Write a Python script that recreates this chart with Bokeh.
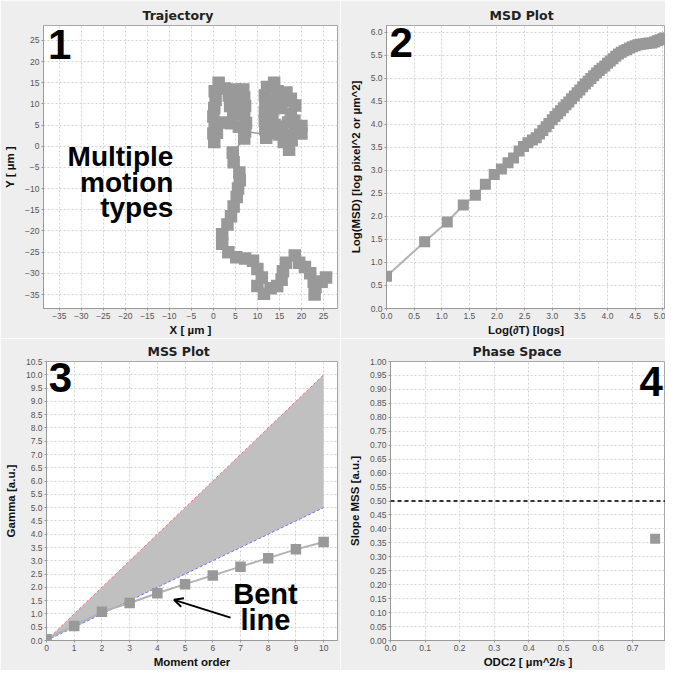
from bokeh.plotting import figure
from bokeh.models import Range1d, FixedTicker, NumeralTickFormatter, Label, Arrow, OpenHead, Span
from bokeh.layouts import column, row
from bokeh.embed import file_html
from bokeh.resources import INLINE

# ---------------- data ----------------
traj_x = [20.0, 20.0, 18.6, 17.8, 17.2, 16.0, 15.0, 13.5, 12.0, 11.8, 11.7, 11.7, 11.8, 11.7, 12.2, 13.8,
          14.6, 13.6, 13.8, 13.4, 14.0, 15.6, 17.0, 17.6, 18.6, 17.6, 16.6, 15.8, 15.4, 18.4, 16.8, 12.0,
          7.2, 7.4, 7.0, 7.2, 7.0, 6.8, 5.0, 4.6, 5.0, 4.5, 3.8, 3.5, 2.6, 1.2, 0.3, 0.5, 0.2, 0.0, 0.3,
          0.0, 0.2, 0.8, 2.2, 4.0, 5.8, 7.0,
          4.4, 4.6, 5.9, 6.0, 5.6, 5.3, 4.6, 4.0, 3.2, 2.0, 2.0, 3.4, 5.2, 7.2, 9.0, 10.0, 11.0, 10.0,
          11.5, 13.0, 14.5, 15.5, 15.8, 16.5, 18.5, 19.5, 20.8, 22.0, 22.8, 23.0, 23.2, 24.6, 25.6]
traj_y = [3.0, 4.8, 3.6, 1.5, -0.8, 1.0, 2.8, 3.2, 2.0, 4.0, 6.0, 8.0, 10.0, 12.0, 14.0, 15.0,
          13.0, 11.0, 9.0, 7.0, 5.0, 4.6, 5.6, 7.6, 9.6, 11.2, 12.7, 10.6, 9.0, 6.0, 2.6, 2.8,
          3.5, 5.5, 7.5, 9.5, 11.5, 13.4, 13.4, 11.5, 9.5, 7.5, 9.5, 12.0, 13.6, 15.0, 13.0, 11.0, 9.0, 7.0, 5.0,
          3.0, 1.0, 3.2, 5.6, 5.4, 4.6, 1.8,
          -1.5, -3.8, -6.2, -8.0, -10.0, -12.0, -14.2, -16.5, -18.5, -20.8, -23.0, -25.0, -26.2, -26.5, -27.0, -29.0, -31.0, -33.0,
          -34.8, -33.5, -33.0, -31.5, -29.5, -27.5, -25.8, -27.5, -28.5, -30.0, -32.0, -35.0, -33.2, -32.0, -31.0]

msd_logt = [0.00, 0.69, 1.10, 1.39, 1.61, 1.79, 1.95, 2.08, 2.20, 2.30, 2.40, 2.48, 2.56, 2.64, 2.71, 2.77,
            2.83, 2.89, 2.94, 3.00, 3.05, 3.10, 3.15, 3.20, 3.25, 3.30, 3.35, 3.40, 3.45, 3.50, 3.55, 3.60,
            3.65, 3.70, 3.75, 3.80, 3.85, 3.90, 3.95, 4.00, 4.05, 4.10, 4.15, 4.20, 4.25, 4.30, 4.35, 4.40,
            4.45, 4.50, 4.55, 4.60, 4.65, 4.70, 4.75, 4.80, 4.85, 4.90, 4.95, 5.00, 5.04]
msd_logmsd = [0.70, 1.45, 1.88, 2.25, 2.46, 2.70, 2.91, 3.03, 3.17, 3.27, 3.42, 3.52, 3.60, 3.66, 3.71, 3.79,
              3.87, 3.95, 4.02, 4.10, 4.17, 4.23, 4.30, 4.36, 4.43, 4.49, 4.56, 4.62, 4.69, 4.75, 4.82, 4.88,
              4.94, 5.00, 5.06, 5.12, 5.17, 5.22, 5.27, 5.33, 5.38, 5.43, 5.48, 5.53, 5.57, 5.60, 5.63, 5.66,
              5.69, 5.71, 5.73, 5.74, 5.75, 5.76, 5.77, 5.77, 5.79, 5.82, 5.84, 5.86, 5.88]

mss_order = [0, 1, 2, 3, 4, 5, 6, 7, 8, 9, 10]
mss_gamma = [0.05, 0.55, 1.08, 1.41, 1.78, 2.12, 2.45, 2.78, 3.10, 3.43, 3.71]
mss_bound_order = [0, 10]
mss_upper = [0, 10]
mss_lower = [0, 5]

phase_odc2 = [0.765]
phase_slope = [0.365]
phase_threshold = 0.5

traj_ticks = [-35, -30, -25, -20, -15, -10, -5, 0, 5, 10, 15, 20, 25]
msd_xticks = [0.0, 0.5, 1.0, 1.5, 2.0, 2.5, 3.0, 3.5, 4.0, 4.5, 5.0]
msd_yticks = [0.0, 0.5, 1.0, 1.5, 2.0, 2.5, 3.0, 3.5, 4.0, 4.5, 5.0, 5.5, 6.0]
mss_xticks = [0, 1, 2, 3, 4, 5, 6, 7, 8, 9, 10]
mss_yticks = [0.0, 0.5, 1.0, 1.5, 2.0, 2.5, 3.0, 3.5, 4.0, 4.5, 5.0, 5.5, 6.0, 6.5, 7.0, 7.5, 8.0, 8.5,
              9.0, 9.5, 10.0, 10.5]
phase_xticks = [0.0, 0.1, 0.2, 0.3, 0.4, 0.5, 0.6, 0.7, 0.8]
phase_yticks = [0.00, 0.05, 0.10, 0.15, 0.20, 0.25, 0.30, 0.35, 0.40, 0.45, 0.50, 0.55, 0.60, 0.65,
                0.70, 0.75, 0.80, 0.85, 0.90, 0.95, 1.00]

# ---------------- style ----------------
BG = "#EEEEEE"
MARK = "#999999"
LINE = "#B2B2B2"
LAB_FONT = "Liberation Sans"


def make_fig(width, height, xr, yr, xticks, yticks, xfmt, yfmt, title, toff, xlabel, ylabel,
             bl, br, bt, bb=29):
    p = figure(width=width, height=height, x_range=Range1d(*xr), y_range=Range1d(*yr),
               output_backend="svg", toolbar_location=None, title=title,
               min_border_left=bl, min_border_right=br, min_border_top=bt, min_border_bottom=bb,
               background_fill_color="white", border_fill_color=BG, outline_line_color="#A8A8A8")
    p.title.align = "left"
    p.title.offset = toff
    p.title.text_font = "DejaVu Sans"
    p.title.text_font_size = "12.5px"
    p.title.text_font_style = "bold"
    p.title.text_color = "#222222"
    p.title.standoff = 6
    for ax, ticks, fmt, lab, grid, lstand in ((p.xaxis[0], xticks, xfmt, xlabel, p.xgrid[0], 2),
                                              (p.yaxis[0], yticks, yfmt, ylabel, p.ygrid[0], 6)):
        t = FixedTicker(ticks=ticks)
        ax.ticker = t
        grid.ticker = t
        if fmt:
            ax.formatter = NumeralTickFormatter(format=fmt)
        ax.axis_label = lab
        ax.axis_label_text_font = LAB_FONT
        ax.axis_label_text_font_size = "11.5px"
        ax.axis_label_text_font_style = "bold"
        ax.axis_label_text_color = "#111111"
        ax.axis_label_standoff = lstand
        ax.major_label_text_font = LAB_FONT
        ax.major_label_text_font_size = "8.5px"
        ax.major_label_text_color = "#555555"
        ax.major_label_standoff = 2
        ax.axis_line_color = "#999999"
        ax.major_tick_line_color = "#999999"
        ax.major_tick_out = 2
        ax.major_tick_in = 0
        ax.minor_tick_line_color = None
        grid.grid_line_color = "#D2D2D2"
        grid.grid_line_dash = "2 2"
        grid.grid_line_width = 1
    return p


def big_label(p, x, y, text, size="42px", align="left"):
    p.add_layout(Label(x=x, y=y, text=text, text_font=LAB_FONT, text_font_size=size,
                       text_font_style="bold", text_color="black", text_align=align,
                       text_baseline="alphabetic"))


# ---- Panel 1: Trajectory ----
p1 = make_fig(340, 338, (-38.6, 28.2), (-38.3, 28.5), traj_ticks, traj_ticks, None, None,
              "Trajectory", 99, "X [ µm ]", "Y [ µm ]", bl=43, br=3, bt=25)
p1.line(traj_x, traj_y, line_color=MARK, line_width=1.5)
p1.scatter(traj_x, traj_y, marker="square", size=12.5, fill_color=MARK, line_color=None)
big_label(p1, -37.6, 24.1, "1")
big_label(p1, -9.1, -2.45, "Multiple", size="28px", align="right")
big_label(p1, -9.1, -8.55, "motion", size="28px", align="right")
big_label(p1, -9.1, -14.35, "types", size="28px", align="right")

# ---- Panel 2: MSD Plot ----
p2 = make_fig(325, 338, (0, 5.05), (0, 6.15), msd_xticks, msd_yticks, "0.0", "0.0",
              "MSD Plot", 103, "Log(\u2202T) [logs]", "Log(MSD) [log pixel^2 or µm^2]",
              bl=46, br=0, bt=25)
p2.line(msd_logt, msd_logmsd, line_color=LINE, line_width=2)
p2.scatter(msd_logt, msd_logmsd, marker="square", size=11, fill_color=MARK, line_color=None)
big_label(p2, 0.055, 5.79, "2")

# ---- Panel 3: MSS Plot ----
p3 = make_fig(340, 332, (0, 10.5), (0, 10.5), mss_xticks, mss_yticks, None, "0.0",
              "MSS Plot", 101, "Moment order", "Gamma [a.u.]", bl=46, br=3, bt=23)
p3.varea(x=mss_bound_order, y1=mss_lower, y2=mss_upper, fill_color="#C0C0C0")
p3.line(mss_bound_order, mss_upper, line_color="#FF7070", line_dash="3 2", line_width=1)
p3.line(mss_bound_order, mss_lower, line_color="#7070FF", line_dash="3 2", line_width=1)
p3.line(mss_order, mss_gamma, line_color=LINE, line_width=2)
p3.scatter(mss_order, mss_gamma, marker="square", size=10.5, fill_color=MARK, line_color=None)
big_label(p3, 0.08, 9.88, "3")
big_label(p3, 7.9, 1.75, "Bent", size="29px", align="center")
big_label(p3, 7.9, 0.79, "line", size="29px", align="center")
p3.add_layout(Arrow(end=OpenHead(size=9, line_width=2, line_color="black"),
                    x_start=6.64, y_start=0.86, x_end=4.60, y_end=1.53,
                    line_width=2, line_color="black"))

# ---- Panel 4: Phase Space ----
p4 = make_fig(325, 332, (0, 0.795), (0, 1.0), phase_xticks, phase_yticks, "0.0", "0.00",
              "Phase Space", 82, "ODC2 [ µm^2/s ]", "Slope MSS [a.u.]", bl=50, br=0, bt=23)
p4.add_layout(Span(location=phase_threshold, dimension="width", line_color="#333333",
                   line_dash="4 3", line_width=2))
p4.scatter(phase_odc2, phase_slope, marker="square", size=10, fill_color=MARK, line_color=None)
big_label(p4, 0.72, 0.93, "4")

# ---- bottom red bar ----
bar = figure(width=665, height=4, x_range=Range1d(0, 1), y_range=Range1d(0, 1),
             output_backend="svg", toolbar_location=None, min_border=0,
             background_fill_color="#F5401E", border_fill_color="#F5401E", outline_line_color=None)
bar.axis.visible = False
bar.grid.visible = False

layout = column(row(p1, p2), row(p3, p4), bar)
open("out.html", "w").write(file_html(layout, INLINE))
